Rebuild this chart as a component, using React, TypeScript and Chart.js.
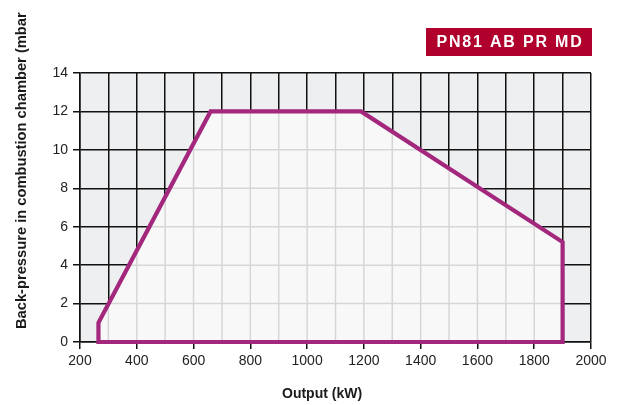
import React, { useEffect, useRef } from "react";
import { Chart, registerables } from "chart.js";

Chart.register(...registerables);

// Data
const outputKW = [265, 265, 660, 1190, 1900, 1900, 265];
const backPressure = [0, 1, 12, 12, 5.2, 0, 0];
const xMin = 200;
const xMax = 2000;
const xStep = 100;
const xLabelStep = 200;
const yMin = 0;
const yMax = 14;
const yStep = 2;
const badgeText = "PN81 AB PR MD";
const xTitle = "Output (kW)";
const yTitle = "Back-pressure in combustion chamber (mbar";

const FONT = "'Liberation Sans', Arial, Helvetica, sans-serif";
const LINE_COLOR = "#a3277d";

const customPlugin = {
  id: "customDecor",
  beforeDraw(chart: any) {
    const { ctx, chartArea } = chart;
    ctx.save();
    ctx.fillStyle = "#eeeff1";
    ctx.fillRect(chartArea.left, chartArea.top, chartArea.right - chartArea.left, chartArea.bottom - chartArea.top);
    ctx.restore();
  },
  beforeDatasetsDraw(chart: any) {
    const { ctx, chartArea } = chart;
    const xs = chart.scales.x;
    const ys = chart.scales.y;
    ctx.save();
    ctx.beginPath();
    outputKW.forEach((v, i) => {
      const px = xs.getPixelForValue(v);
      const py = ys.getPixelForValue(backPressure[i]);
      if (i === 0) ctx.moveTo(px, py);
      else ctx.lineTo(px, py);
    });
    ctx.closePath();
    ctx.fillStyle = "#f8f8f8";
    ctx.fill();
    ctx.clip();
    ctx.strokeStyle = "#d6d6d6";
    ctx.lineWidth = 1.5;
    xs.ticks.forEach((t: any) => {
      const px = xs.getPixelForValue(t.value);
      ctx.beginPath();
      ctx.moveTo(px, chartArea.top);
      ctx.lineTo(px, chartArea.bottom);
      ctx.stroke();
    });
    ys.ticks.forEach((t: any) => {
      const py = ys.getPixelForValue(t.value);
      ctx.beginPath();
      ctx.moveTo(chartArea.left, py);
      ctx.lineTo(chartArea.right, py);
      ctx.stroke();
    });
    ctx.restore();
  },
  afterDraw(chart: any) {
    const { ctx } = chart;
    ctx.save();
    // badge
    ctx.fillStyle = "#b0002c";
    ctx.fillRect(426, 28, 166, 28);
    ctx.fillStyle = "#ffffff";
    ctx.font = `bold 16px ${FONT}`;
    (ctx as any).letterSpacing = "1.8px";
    ctx.textAlign = "center";
    ctx.textBaseline = "middle";
    ctx.fillText(badgeText, 510, 42.5);
    (ctx as any).letterSpacing = "0px";
    // x title
    ctx.fillStyle = "#1a1a1a";
    ctx.font = `bold 14px ${FONT}`;
    ctx.textAlign = "left";
    ctx.textBaseline = "alphabetic";
    ctx.fillText(xTitle, 282, 398);
    // y title
    ctx.translate(26, 329);
    ctx.rotate(-Math.PI / 2);
    ctx.font = `bold 14.7px ${FONT}`;
    ctx.fillText(yTitle, 0, 0);
    ctx.restore();
  },
};

export default function App() {
  const ref = useRef<HTMLCanvasElement | null>(null);
  useEffect(() => {
    document.body.style.margin = "0";
    if (!ref.current) return;
    const chart = new Chart(ref.current, {
      type: "scatter",
      data: {
        datasets: [
          {
            data: outputKW.map((x, i) => ({ x, y: backPressure[i] })),
            showLine: true,
            borderColor: LINE_COLOR,
            borderWidth: 4.2,
            pointRadius: 0,
            fill: false,
            tension: 0,
            borderJoinStyle: "miter",
            borderCapStyle: "square",
            clip: false,
          } as any,
        ],
      },
      options: {
        animation: false,
        responsive: false,
        layout: { padding: { top: 73, right: 33, left: 0, bottom: 0 } },
        plugins: { legend: { display: false }, tooltip: { enabled: false } },
        scales: {
          x: {
            type: "linear",
            min: xMin,
            max: xMax,
            afterFit: (s: any) => {
              s.height = 63;
            },
            ticks: {
              stepSize: xStep,
              autoSkip: false,
              maxRotation: 0,
              padding: 4,
              color: "#222",
              font: { family: FONT, size: 14 },
              callback: (v: any) => (Number(v) % xLabelStep === 0 ? String(v) : ""),
            },
            grid: {
              color: "#111",
              lineWidth: 1.5,
              tickLength: 7,
              tickColor: (c: any) => (c.tick && c.tick.value % xLabelStep === 0 ? "#111" : "rgba(0,0,0,0)"),
            },
            border: { color: "#111", width: 1.5 },
          },
          y: {
            type: "linear",
            min: yMin,
            max: yMax,
            afterFit: (s: any) => {
              s.width = 80;
            },
            ticks: {
              stepSize: yStep,
              padding: 5,
              color: "#222",
              font: { family: FONT, size: 14 },
            },
            grid: { color: "#111", lineWidth: 1.5, tickLength: 7, tickColor: "#111" },
            border: { color: "#111", width: 1.5 },
          },
        },
      },
      plugins: [customPlugin],
    });
    return () => chart.destroy();
  }, []);
  return (
    <div style={{ width: 624, height: 405 }}>
      <canvas ref={ref} width={624} height={405} />
    </div>
  );
}
